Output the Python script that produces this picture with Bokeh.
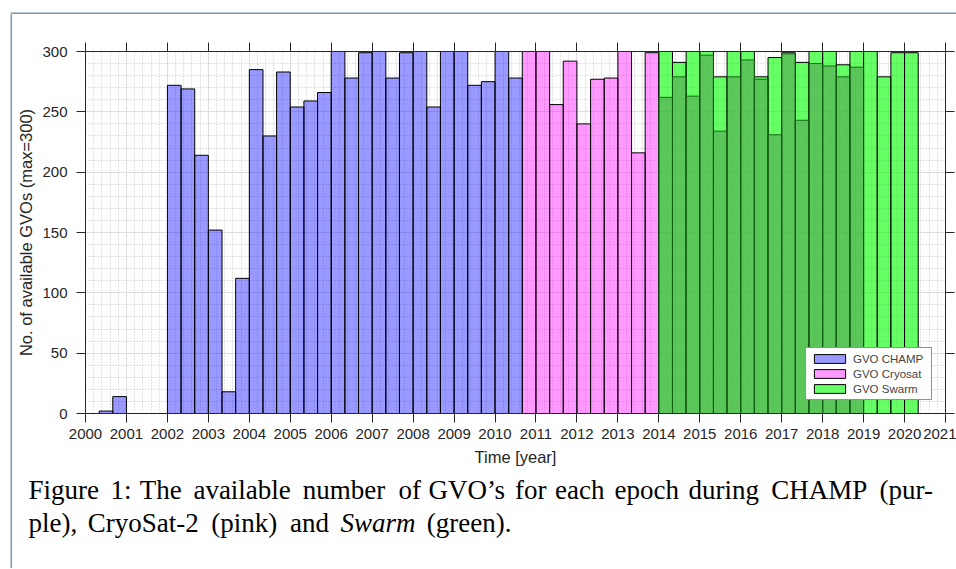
from bokeh.plotting import figure
from bokeh.layouts import column, row
from bokeh.models import (Range1d, LinearAxis, SingleIntervalTicker, FixedTicker, Legend,
                          LegendItem)
from bokeh.core.properties import value
from bokeh.embed import file_html
from bokeh.resources import INLINE

# ---- data (epoch centres in decimal years, 4-month bins) ----
champ_t = [2000.500, 2000.833, 2002.167, 2002.500, 2002.833, 2003.167, 2003.500, 2003.833,
           2004.167, 2004.500, 2004.833, 2005.167, 2005.500, 2005.833, 2006.167, 2006.500,
           2006.833, 2007.167, 2007.500, 2007.833, 2008.167, 2008.500, 2008.833, 2009.167,
           2009.500, 2009.833, 2010.167, 2010.500]
champ_n = [2, 14, 272, 269, 214, 152, 18, 112,
           285, 230, 283, 254, 259, 266, 300, 278,
           299, 300, 278, 299, 300, 254, 300, 300,
           272, 275, 300, 278]

cryo_t = [2010.833, 2011.167, 2011.500, 2011.833, 2012.167, 2012.500, 2012.833,
          2013.167, 2013.500, 2013.833]
cryo_n = [300, 300, 256, 292, 240, 277, 278, 300, 216, 299]

swarm_t = [2014.167, 2014.500, 2014.833, 2015.167, 2015.500, 2015.833, 2016.167, 2016.500,
           2016.833, 2017.167, 2017.500, 2017.833, 2018.167, 2018.500, 2018.833, 2019.167,
           2019.500, 2019.833, 2020.167]
swarm_n = [300, 291, 300, 300, 279, 300, 300, 279,
           295, 299, 291, 300, 300, 289, 300, 300,
           279, 299, 299]

swarm2_t = [2014.167, 2014.500, 2014.833, 2015.167, 2015.500, 2015.833, 2016.167, 2016.500,
            2016.833, 2017.167, 2017.500, 2017.833, 2018.167, 2018.500, 2018.833]
swarm2_n = [262, 279, 263, 297, 234, 279, 293, 277,
            231, 298, 243, 290, 288, 279, 287]

year_ticks = [2000, 2001, 2002, 2003, 2004, 2005, 2006, 2007, 2008, 2009, 2010,
              2011, 2012, 2013, 2014, 2015, 2016, 2017, 2018, 2019, 2020, 2021]
count_ticks = [0, 50, 100, 150, 200, 250, 300]

x_label = "Time [year]"
y_label = "No. of available GVOs (max=300)"
legend_labels = ["GVO CHAMP", "GVO Cryosat", "GVO Swarm"]
caption_line1 = ["Figure", "1:", "The", "available", "number", "of", "GVO\u2019s", "for",
                 "each", "epoch", "during", "CHAMP", "(pur-"]
caption_line2 = ["ple),", "CryoSat-2", "(pink)", "and", "Swarm", "(green)."]
caption_italic = [False, False, False, False, True, False]

BAR_W = 1 / 3
SANS = "Liberation Sans"
SERIF = "Liberation Serif"
AX = "#262626"
FRAME = "#7f96ae"

# ---------------- chart ----------------
p = figure(width=944, height=461, output_backend="svg", toolbar_location=None,
           x_range=Range1d(2000, 2021), y_range=Range1d(0, 300),
           min_border_left=73, min_border_right=11, min_border_top=37, min_border_bottom=62,
           x_axis_label=x_label, y_axis_label=y_label)
p.frame_align = False
p.background_fill_color = "white"
p.border_fill_color = "white"
p.outline_line_color = None

xt = SingleIntervalTicker(interval=1, num_minor_ticks=5)
yt = SingleIntervalTicker(interval=50, num_minor_ticks=5)
p.xaxis.ticker = xt
p.yaxis.ticker = yt
p.xgrid.ticker = xt
p.ygrid.ticker = yt

for g in (p.xgrid, p.ygrid):
    g.grid_line_color = "#dedede"
    g.grid_line_width = 1
    g.minor_grid_line_color = "#c4c4c4"
    g.minor_grid_line_dash = "1 2"
    g.minor_grid_line_width = 1

def style_axis(ax):
    ax.axis_line_color = AX
    ax.axis_line_width = 1
    ax.major_tick_line_color = AX
    ax.major_tick_out = 9
    ax.major_tick_in = 0
    ax.minor_tick_out = 0
    ax.minor_tick_in = 0
    ax.major_label_text_font = SANS
    ax.major_label_text_color = AX
    ax.major_label_text_font_size = "15px"
    ax.axis_label_text_font = SANS
    ax.axis_label_text_font_size = "16.5px"
    ax.axis_label_text_font_style = "normal"
    ax.axis_label_text_color = AX

style_axis(p.xaxis[0])
style_axis(p.yaxis[0])
p.xaxis[0].major_label_standoff = 6
p.xaxis[0].axis_label_standoff = 6
p.yaxis[0].major_label_standoff = 9
p.yaxis[0].axis_label_standoff = 4

# box axes (top / right): tick marks only, drawn as unlabeled minor ticks
def box_axis(ticks):
    ax = LinearAxis(ticker=FixedTicker(ticks=[], minor_ticks=ticks))
    ax.axis_line_color = AX
    ax.axis_line_width = 1
    ax.minor_tick_line_color = AX
    ax.minor_tick_out = 9
    ax.minor_tick_in = 0
    ax.major_tick_out = 0
    ax.major_label_standoff = 0
    return ax

p.add_layout(box_axis(year_ticks), "above")
p.add_layout(box_axis(count_ticks), "right")

r1 = p.vbar(x=champ_t, top=champ_n, width=BAR_W, bottom=0,
            fill_color="#0000ff", fill_alpha=0.4, line_color="black", line_width=1)
r2 = p.vbar(x=cryo_t, top=cryo_n, width=BAR_W, bottom=0,
            fill_color="#ff00ff", fill_alpha=0.4, line_color="black", line_width=1)
r3 = p.vbar(x=swarm_t, top=swarm_n, width=BAR_W, bottom=0,
            fill_color="#00ff00", fill_alpha=0.6, line_color="black", line_width=1)
r4 = p.vbar(x=swarm2_t, top=swarm2_n, width=BAR_W, bottom=0,
            fill_color="#4f8f4f", fill_alpha=0.5, line_color="#0d5e0d", line_width=1,
            line_alpha=0.9)

legend = Legend(items=[LegendItem(label=legend_labels[0], renderers=[r1]),
                       LegendItem(label=legend_labels[1], renderers=[r2]),
                       LegendItem(label=legend_labels[2], renderers=[r3])],
                location="bottom_right", margin=13, padding=4, spacing=2,
                glyph_width=39, glyph_height=11, label_standoff=4,
                label_height=13, label_width=74,
                label_text_font=SANS, label_text_font_size="11.5px",
                border_line_color=AX, border_line_width=1,
                background_fill_color="white", background_fill_alpha=1)
p.add_layout(legend, "center")

# ---------------- caption (page-pixel coordinates) ----------------
cap = figure(width=944, height=93, output_backend="svg", toolbar_location=None,
             x_range=Range1d(12, 956), y_range=Range1d(568, 475),
             x_axis_type=None, y_axis_type=None,
             min_border_left=0, min_border_right=0, min_border_top=0, min_border_bottom=0)
cap.frame_align = False
cap.outline_line_color = None
cap.background_fill_color = "white"
cap.border_fill_color = "white"
cap.grid.visible = False

line1_x = [28.0, 110.0, 139.2, 192.9, 302.3, 398.0, 427.9, 514.5, 554.6, 614.1, 688.1,
           770.8, 879.1]
line2_x = [28.0, 87.2, 210.8, 289.6, 340.1, 426.2]
CAP_SIZE = "27px"
cap.text(x=line1_x, y=[489] * len(line1_x), text=caption_line1,
         text_font=value(SERIF), text_font_size=CAP_SIZE, text_color="black",
         text_baseline="alphabetic", text_align="left")
norm = [i for i, it in enumerate(caption_italic) if not it]
ital = [i for i, it in enumerate(caption_italic) if it]
cap.text(x=[line2_x[i] for i in norm], y=[522] * len(norm),
         text=[caption_line2[i] for i in norm],
         text_font=value(SERIF), text_font_size=CAP_SIZE, text_color="black",
         text_baseline="alphabetic", text_align="left")
cap.text(x=[line2_x[i] for i in ital], y=[522] * len(ital),
         text=[caption_line2[i] for i in ital],
         text_font=value(SERIF), text_font_size=CAP_SIZE, text_font_style="italic",
         text_color="black", text_baseline="alphabetic", text_align="left")

# ---------------- panel frame ----------------
top_fig = figure(width=946, height=14, output_backend="svg", toolbar_location=None,
                 x_range=Range1d(0, 946), y_range=Range1d(14, 0),
                 x_axis_type=None, y_axis_type=None,
                 min_border_left=0, min_border_right=0, min_border_top=0, min_border_bottom=0)
top_fig.frame_align = False
top_fig.outline_line_color = None
top_fig.background_fill_color = "white"
top_fig.border_fill_color = "white"
top_fig.grid.visible = False
top_fig.quad(left=[0], right=[946], top=[12], bottom=[14], fill_color=FRAME, line_color=None)

left_strip = figure(width=2, height=554, output_backend="svg", toolbar_location=None,
                    x_axis_type=None, y_axis_type=None,
                    min_border_left=0, min_border_right=0, min_border_top=0,
                    min_border_bottom=0)
left_strip.frame_align = False
left_strip.outline_line_color = None
left_strip.background_fill_color = FRAME
left_strip.border_fill_color = FRAME
left_strip.grid.visible = False

layout = column(top_fig, row(left_strip, column(p, cap, spacing=0), spacing=0),
                spacing=0, margin=(0, 0, 0, 10))

open("out.html", "w").write(file_html(layout, INLINE))
